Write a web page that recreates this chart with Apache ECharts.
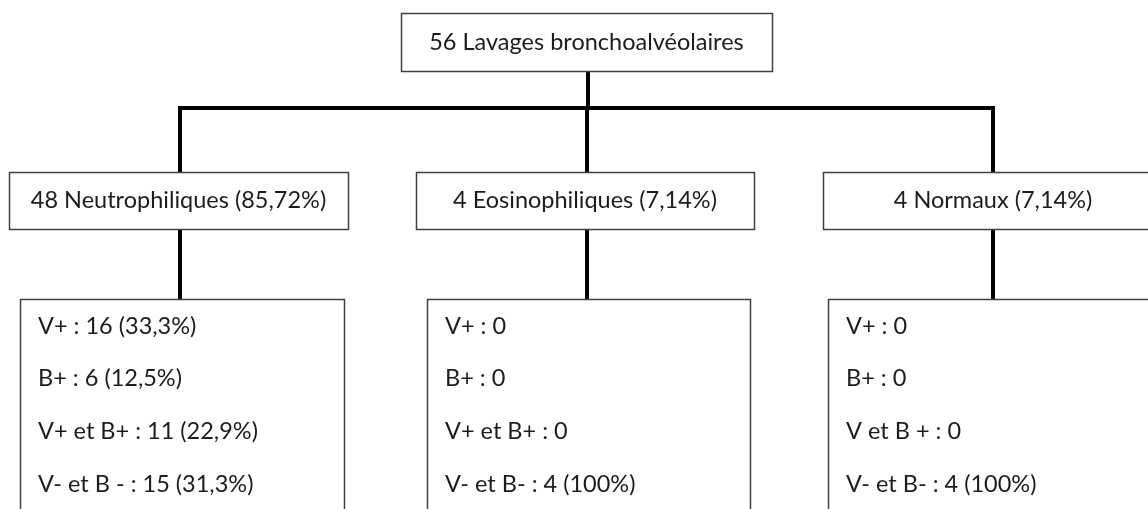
<!DOCTYPE html>
<html>
<head>
<meta charset="utf-8">
<title>Lavages bronchoalvéolaires</title>
<script src="https://cdn.jsdelivr.net/npm/echarts@6/dist/echarts.min.js"></script>
<style>
  html, body { margin: 0; padding: 0; background: #fff; }
  #main { width: 1148px; height: 509px; }
</style>
</head>
<body>
<div id="main"></div>
<script>
// texte des noeuds
var rootLabel = '56 Lavages bronchoalvéolaires';
var groupLabels = ['48 Neutrophiliques (85,72%)', '4 Eosinophiliques (7,14%)', '4 Normaux (7,14%)'];
var detailNeutro = ['V+ : 16 (33,3%)', 'B+ : 6 (12,5%)', 'V+ et B+ : 11 (22,9%)', 'V- et B - : 15 (31,3%)'];
var detailEosino = ['V+ : 0', 'B+ : 0', 'V+ et B+ : 0', 'V- et B- : 4 (100%)'];
var detailNormal = ['V+ : 0', 'B+ : 0', 'V et B + : 0', 'V- et B- : 4 (100%)'];

// mise en page (unites des axes = pixels)
var W = 1148, H = 509;
var layout = {
	root: { x0: 401, x1: 772, y0: 13, y1: 71, stem: 588 },
	busY: 108,
	level2: { y0: 172, y1: 229, boxes: [[9, 348], [416, 754], [823, 1163]] },
	level3: { y0: 299, y1: 530, boxes: [[20, 344], [427, 750], [828, 1163]], padX: 18, firstY: 27, step: 52.7 },
	stems: [180, 587, 993]
};
var FONT = '23.5px Lato, "Open Sans", sans-serif';
var TEXT_COLOR = '#1c1c1c';
var BORDER = '#404040';

var details = [detailNeutro, detailEosino, detailNormal];

// liste des noeuds
var nodes = [{ box: [layout.root.x0, layout.root.x1, layout.root.y0, layout.root.y1], lines: [rootLabel], center: true }];
groupLabels.forEach(function(lbl, i) {
	var b = layout.level2.boxes[i];
	nodes.push({ box: [b[0], b[1], layout.level2.y0, layout.level2.y1], lines: [lbl], center: true });
});
details.forEach(function(d, i) {
	var b = layout.level3.boxes[i];
	nodes.push({ box: [b[0], b[1], layout.level3.y0, layout.level3.y1], lines: d, center: false });
});

// liens : segments verticaux + bus horizontal
var links = [];
links.push([[layout.root.stem, layout.root.y1], [layout.root.stem, layout.busY]]);
links.push([[layout.stems[0], layout.busY], [layout.stems[2], layout.busY]]);
layout.stems.forEach(function(x) {
	links.push([[x, layout.busY], [x, layout.level2.y0]]);
	links.push([[x, layout.level2.y1], [x, layout.level3.y0]]);
});

function renderNode(params, api) {
	var n = nodes[api.value(0)];
	var p0 = api.coord([n.box[0], n.box[2]]);
	var p1 = api.coord([n.box[1], n.box[3]]);
	var children = [{
		type: 'rect',
		shape: { x: Math.round(p0[0]) + 0.5, y: Math.round(p0[1]) + 0.5, width: Math.round(p1[0] - p0[0]), height: Math.round(p1[1] - p0[1]) },
		style: { fill: '#fff', stroke: BORDER, lineWidth: 1.5 }
	}];
	n.lines.forEach(function(t, k) {
		var x, y, align;
		if (n.center) {
			x = (p0[0] + p1[0]) / 2;
			y = (p0[1] + p1[1]) / 2;
			align = 'center';
		} else {
			x = api.coord([n.box[0] + layout.level3.padX, 0])[0];
			y = api.coord([0, n.box[2] + layout.level3.firstY + k * layout.level3.step])[1];
			align = 'left';
		}
		children.push({
			type: 'text',
			style: { text: t, x: x, y: y, align: align, verticalAlign: 'middle', font: FONT, fill: TEXT_COLOR }
		});
	});
	return { type: 'group', children: children };
}

function renderLink(params, api) {
	var l = links[api.value(0)];
	var pts = l.map(function(p) { return api.coord(p); });
	return {
		type: 'polyline',
		shape: { points: pts },
		style: { stroke: '#000', lineWidth: 4, fill: null, lineCap: 'square' }
	};
}

var chart = echarts.init(document.getElementById('main'));
chart.setOption({
	animation: false,
	backgroundColor: '#fff',
	grid: { left: 0, right: 0, top: 0, bottom: 0 },
	xAxis: { type: 'value', min: 0, max: W, show: false },
	yAxis: { type: 'value', min: 0, max: H, inverse: true, show: false },
	series: [
		{
			type: 'custom',
			renderItem: renderLink,
			clip: true,
			data: links.map(function(l, i) { return [i]; }),
			z: 1
		},
		{
			type: 'custom',
			renderItem: renderNode,
			clip: true,
			data: nodes.map(function(n, i) { return [i]; }),
			z: 2
		}
	]
});
</script>
</body>
</html>
